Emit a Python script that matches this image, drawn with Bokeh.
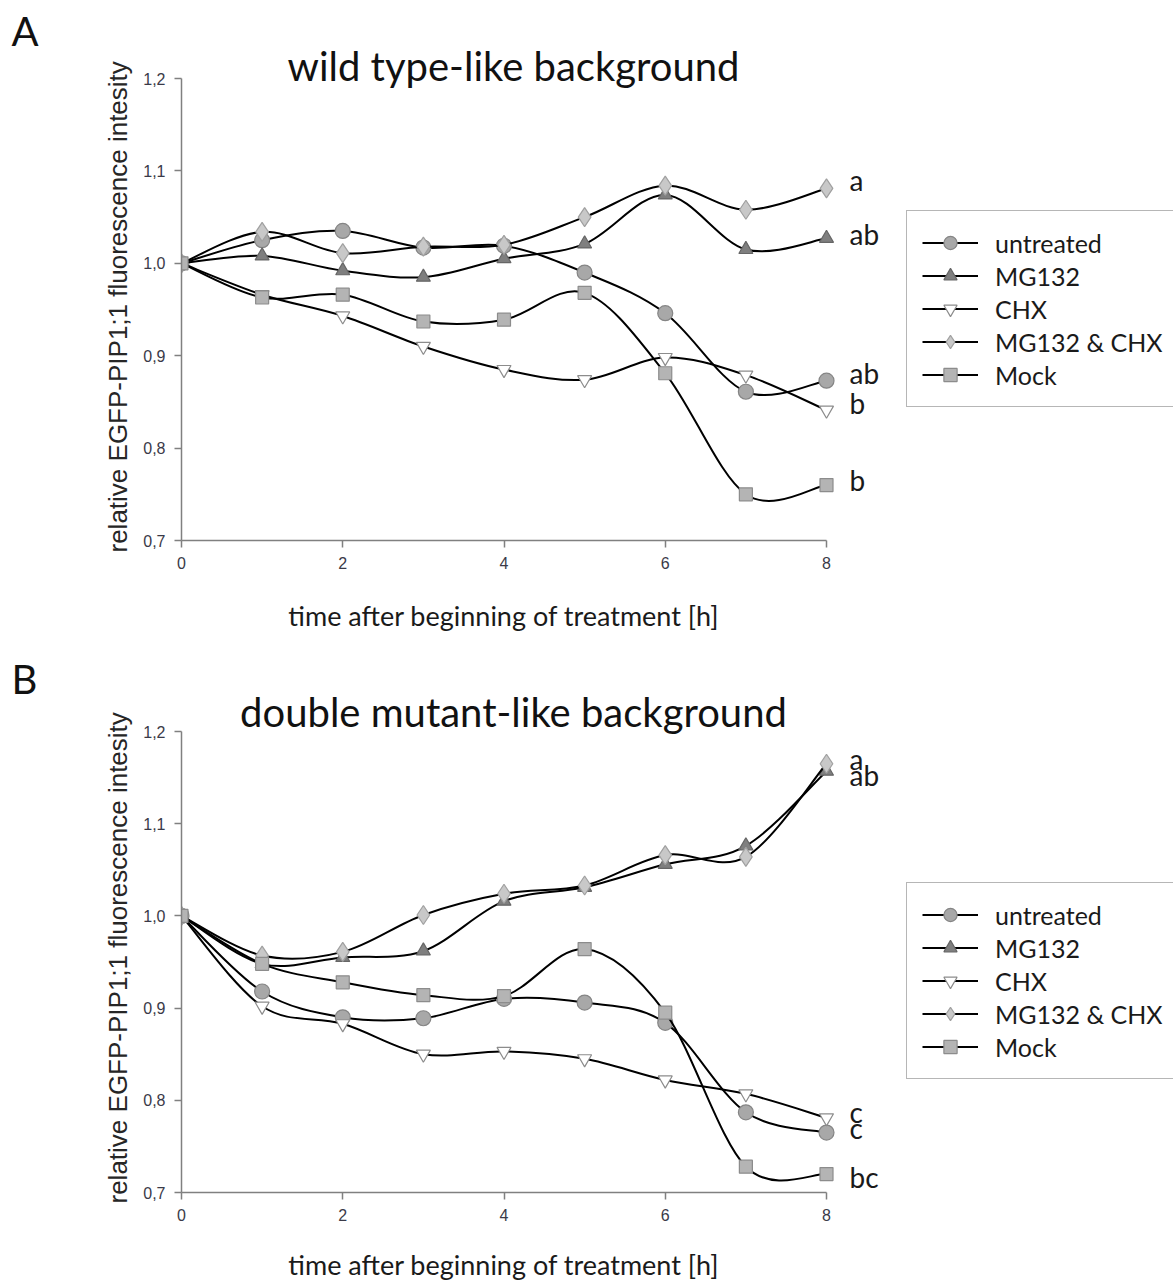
from bokeh.plotting import figure
from bokeh.layouts import column, row
from bokeh.models import (Range1d, FixedTicker, CustomJSTickFormatter, Legend, LegendItem,
                          ColumnDataSource, Title)
from bokeh.core.properties import value
from bokeh.embed import file_html
from bokeh.resources import INLINE

# ---------------- data ----------------
hours = [0, 1, 2, 3, 4, 5, 6, 7, 8]
series_names = ["untreated", "MG132", "CHX", "MG132 & CHX", "Mock"]

wt_untreated = [1.000, 1.025, 1.035, 1.017, 1.019, 0.990, 0.946, 0.861, 0.873]
wt_mg132 = [1.000, 1.008, 0.992, 0.985, 1.005, 1.021, 1.074, 1.015, 1.027]
wt_chx = [1.000, 0.966, 0.943, 0.910, 0.885, 0.874, 0.898, 0.879, 0.841]
wt_mg132_chx = [1.000, 1.034, 1.011, 1.018, 1.020, 1.050, 1.084, 1.058, 1.081]
wt_mock = [1.000, 0.963, 0.966, 0.937, 0.939, 0.968, 0.881, 0.750, 0.760]
wt_letters = ["ab", "ab", "b", "a", "b"]

dm_untreated = [1.000, 0.918, 0.890, 0.889, 0.910, 0.906, 0.884, 0.787, 0.765]
dm_mg132 = [1.000, 0.948, 0.955, 0.962, 1.016, 1.031, 1.056, 1.076, 1.157]
dm_chx = [1.000, 0.902, 0.883, 0.850, 0.853, 0.845, 0.822, 0.807, 0.781]
dm_mg132_chx = [1.000, 0.957, 0.961, 1.001, 1.024, 1.033, 1.066, 1.064, 1.165]
dm_mock = [1.000, 0.948, 0.928, 0.914, 0.913, 0.964, 0.895, 0.728, 0.720]
dm_letters = ["c", "ab", "c", "a", "bc"]

y_ticks = [0.7, 0.8, 0.9, 1.0, 1.1, 1.2]
x_ticks = [0, 2, 4, 6, 8]

x_title = "time after beginning of treatment [h]"
y_title = "relative EGFP-PIP1;1 fluorescence intesity"

# ---------------- styles / layout ----------------
markers = ["circle", "triangle", "inverted_triangle", "diamond", "square"]
fills = ["#a8a8a8", "#7f7f7f", "#ffffff", "#c8c8c8", "#b4b4b4"]
edges = ["#858585", "#666666", "#8c8c8c", "#a0a0a0", "#8c8c8c"]
sizes = [15, 14, 14, 19, 13]

FONT = "Lato"
AXIS_FONT = "Liberation Sans"
TOTAL_W = 1173
X0_PX, X8_PX = 181, 826     # pixel columns of hour 0 and hour 8
SPACER_W = 50               # strip left of the chart that holds the panel letter


def smooth_segments(xs, ys):
    """Bezier control points of an Excel-like smoothed line through the data points."""
    n = len(xs)
    out = dict(x0=[], y0=[], x1=[], y1=[], cx0=[], cy0=[], cx1=[], cy1=[])
    for i in range(n - 1):
        xm, ym = (xs[i - 1], ys[i - 1]) if i > 0 else (xs[i], ys[i])
        xp, yp = (xs[i + 2], ys[i + 2]) if i + 2 < n else (xs[i + 1], ys[i + 1])
        out["x0"].append(xs[i]); out["y0"].append(ys[i])
        out["x1"].append(xs[i + 1]); out["y1"].append(ys[i + 1])
        out["cx0"].append(xs[i] + (xs[i + 1] - xm) / 6.0)
        out["cy0"].append(ys[i] + (ys[i + 1] - ym) / 6.0)
        out["cx1"].append(xs[i + 1] - (xp - xs[i]) / 6.0)
        out["cy1"].append(ys[i + 1] - (yp - ys[i]) / 6.0)
    return out


def base_fig(width, height, x_range, y_range, **kw):
    f = figure(width=width, height=height, x_range=x_range, y_range=y_range,
               output_backend="svg", toolbar_location=None, **kw)
    f.outline_line_color = None
    f.background_fill_color = "white"
    f.border_fill_color = "white"
    f.grid.visible = False
    return f


def make_panel(top_px, letter, letter_mid, title, title_mid, series, letters, label_dy,
               tick12_px, tick07_px, chart_h, footer_h, xlabel_mid, legend_bottom_px,
               ylabel_low_end):
    frame_top = top_px
    foot_top = frame_top + chart_h
    bottom_border = foot_top - tick07_px
    px_unit = (tick07_px - tick12_px) / (y_ticks[-1] - y_ticks[0])
    px_hour = (X8_PX - X0_PX) / (x_ticks[-1] - x_ticks[0])
    yr = Range1d(y_ticks[0], y_ticks[-1] + (tick12_px - frame_top) / px_unit)
    xr = Range1d(x_ticks[0], x_ticks[0] + (TOTAL_W - X0_PX) / px_hour)

    def y_at(px):
        return y_ticks[-1] + (tick12_px - px) / px_unit

    # ---- left strip: panel letter ----
    spacer = base_fig(SPACER_W, chart_h, Range1d(0, SPACER_W), yr,
                      x_axis_location=None, y_axis_location=None,
                      min_border_left=0, min_border_right=0,
                      min_border_top=0, min_border_bottom=bottom_border)
    spacer.text(x=[11], y=[y_at(letter_mid)], text=[letter],
                text_font=value(FONT), text_font_size="40px", text_color="#111111",
                text_baseline="middle", text_align="left")

    # ---- chart (frame runs to the right edge, holding title, letters and legend) ----
    p = base_fig(TOTAL_W - SPACER_W, chart_h, xr, yr,
                 min_border_left=X0_PX - SPACER_W, min_border_right=0,
                 min_border_top=0, min_border_bottom=bottom_border)
    for ax in (p.xaxis[0], p.yaxis[0]):
        ax.axis_line_color = "#808080"
        ax.axis_line_width = 1.5
        ax.major_tick_line_color = "#808080"
        ax.major_tick_line_width = 1.5
        ax.major_tick_in = 0
        ax.major_tick_out = 7
        ax.minor_tick_line_color = None
        ax.major_label_text_font = AXIS_FONT
        ax.major_label_text_font_size = "16px"
        ax.major_label_text_color = "#3a3a48"
        ax.major_label_standoff = 9
    p.xaxis.ticker = FixedTicker(ticks=x_ticks)
    p.yaxis.ticker = FixedTicker(ticks=y_ticks)
    p.xaxis.bounds = (x_ticks[0], x_ticks[-1])
    p.yaxis.bounds = (y_ticks[0], y_ticks[-1])
    p.yaxis.formatter = CustomJSTickFormatter(code="return tick.toFixed(1).replace('.', ',');")

    # y title as a side-panel title, starting a little below the frame bottom
    p.add_layout(Title(text=y_title, align="left", offset=tick07_px - ylabel_low_end,
                       vertical_align="bottom", standoff=16,
                       text_font=AXIS_FONT, text_font_size="26px", text_font_style="normal",
                       text_color="#262626"), "left")

    p.text(x=[(513 - X0_PX) / px_hour], y=[y_at(title_mid)], text=[title],
           text_font=value(FONT), text_font_size="40px", text_color="#111111",
           text_baseline="middle", text_align="center")

    items = []
    for k, ys in enumerate(series):
        seg = smooth_segments(hours, ys)
        p.bezier(source=ColumnDataSource(seg), x0="x0", y0="y0", x1="x1", y1="y1",
                 cx0="cx0", cy0="cy0", cx1="cx1", cy1="cy1",
                 line_color="black", line_width=2)
        # one-point line: invisible in the plot, gives the legend its line sample
        proxy = p.line(x=hours[:1], y=ys[:1], line_color="black", line_width=2)
        sc = p.scatter(x=hours, y=ys, marker=markers[k], size=sizes[k],
                       fill_color=fills[k], line_color=edges[k], line_width=1.2)
        items.append(LegendItem(label=series_names[k], renderers=[proxy, sc]))

    ends = ColumnDataSource(dict(x=[hours[-1]] * len(series),
                                 y=[s[-1] for s in series], t=letters, dy=label_dy))
    p.text(x="x", y="y", text="t", x_offset=23, y_offset="dy", source=ends,
           text_font=value(FONT), text_font_size="28px", text_color="#1a1a1a",
           text_baseline="middle", text_align="left")

    legend = Legend(items=items, location=(906 - X0_PX, tick07_px - legend_bottom_px),
                    glyph_width=56, glyph_height=33, label_standoff=17,
                    label_width=162, label_height=33, spacing=0, padding=15, margin=0,
                    label_text_font=FONT, label_text_font_size="25px",
                    label_text_color="#1a1a1a",
                    border_line_color="#6e6e6e", border_line_width=1.5,
                    background_fill_color="white", background_fill_alpha=1.0)
    p.add_layout(legend, "center")

    # ---- footer: x title ----
    foot = base_fig(TOTAL_W, footer_h, Range1d(0, TOTAL_W), Range1d(0, footer_h),
                    x_axis_location=None, y_axis_location=None,
                    min_border_left=0, min_border_right=0, min_border_top=0, min_border_bottom=0)
    foot.text(x=[(X0_PX + X8_PX) / 2], y=[footer_h - (xlabel_mid - foot_top)], text=[x_title],
              text_font=value(FONT), text_font_size="27px", text_color="#1a1a1a",
              text_baseline="middle", text_align="center")

    return column(row(spacer, p, spacing=0), foot, spacing=0)


panel_a = make_panel(0, "A", 30, "wild type-like background", 65,
                     [wt_untreated, wt_mg132, wt_chx, wt_mg132_chx, wt_mock], wt_letters,
                     [-8, -4, -7, -8, -5],
                     tick12_px=78, tick07_px=540, chart_h=595, footer_h=45,
                     xlabel_mid=615, legend_bottom_px=407, ylabel_low_end=552)
panel_b = make_panel(640, "B", 678, "double mutant-like background", 711,
                     [dm_untreated, dm_mg132, dm_chx, dm_mg132_chx, dm_mock], dm_letters,
                     [-5, 4, -6, -5, 3],
                     tick12_px=731, tick07_px=1192, chart_h=600, footer_h=41,
                     xlabel_mid=1264, legend_bottom_px=1079, ylabel_low_end=1203)

layout = column(panel_a, panel_b, spacing=0)
open("out.html", "w").write(file_html(layout, INLINE))
